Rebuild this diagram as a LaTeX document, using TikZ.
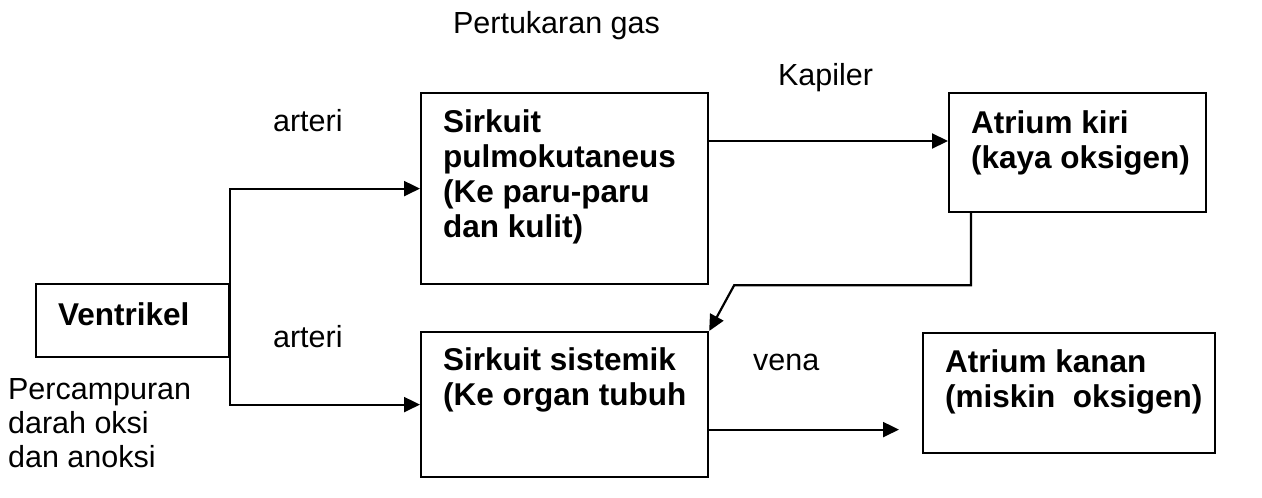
\documentclass[tikz,border=0pt]{standalone}
\usepackage{fontspec}
\setmainfont{Liberation Sans}
\usetikzlibrary{arrows.meta,positioning}

\begin{document}
\begin{tikzpicture}[x=1pt, y=-1pt, line width=2.2pt,
    box/.style={draw, rectangle, anchor=north west, inner sep=0pt},
    boxtext/.style={align=left, inner sep=0pt, font=\fontsize{31.5}{35}\selectfont\bfseries},
    lbl/.style={align=left, inner sep=0pt, font=\fontsize{30.5}{34}\selectfont},
    arr/.style={-{Triangle[length=16pt,width=15pt]}}]
    \useasboundingbox (0,0) rectangle (1262,498);

    \node[box, minimum width=193pt, minimum height=73pt] (ventrikel) at (35,283) {};
    \node[box, minimum width=287pt, minimum height=191pt] (pulmo) at (420,92) {};
    \node[box, minimum width=257pt, minimum height=119pt] (atriumkiri) at (948,92) {};
    \node[box, minimum width=292pt, minimum height=120pt] (atriumkanan) at (922,332) {};
    \node[box, minimum width=287pt, minimum height=145pt] (sistemik) at (420,331) {};

    \node[boxtext, below right=19pt and 22pt of ventrikel.north west] (ventrikeltext) {Ventrikel};
    \node[boxtext, below right=17pt and 22pt of pulmo.north west] (pulmotext) {Sirkuit\\pulmokutaneus\\(Ke paru-paru\\dan kulit)};
    \node[boxtext, below right=18pt and 22pt of atriumkiri.north west] (atriumkiritext) {Atrium kiri\\(kaya oksigen)};
    \node[boxtext, below right=16pt and 22pt of sistemik.north west] (sistemiktext) {Sirkuit sistemik\\(Ke organ tubuh};
    \node[boxtext, below right=17pt and 22pt of atriumkanan.north west] (atriumkanantext) {Atrium kanan\\(miskin\ \ oksigen)};

    \node[lbl, anchor=base west] (gas) at (452,33) {Pertukaran gas};
    \node[lbl, anchor=base west] (kapiler) at (777,85) {Kapiler};
    \node[lbl, anchor=base west] (arteriatas) at (272,131) {arteri};
    \node[lbl, anchor=base west] (arteribawah) at (272,347) {arteri};
    \node[lbl, anchor=base west] (vena) at (752,370) {vena};
    \node[lbl, anchor=north west] (campur) at (7,377) {Percampuran\\darah oksi\\dan anoksi};

    \coordinate (kapilerstart) at ([yshift=-49pt]pulmo.north east);
    \coordinate (venastart) at ([yshift=-25pt]sistemik.east);
    \coordinate (venaend) at (899,428);

    \draw[arr] (ventrikel.east) |- (pulmo.west);
    \draw[arr] (ventrikel.east) |- (sistemik.west);
    \draw[arr] (kapilerstart) -- (kapilerstart -| atriumkiri.west);
    \draw[arr] ([xshift=23pt]atriumkiri.south west) |- ([xshift=25pt]pulmo.south east) -- (sistemik.north east);
    \draw[arr] (venastart) -- (venastart -| venaend);
\end{tikzpicture}
\end{document}
